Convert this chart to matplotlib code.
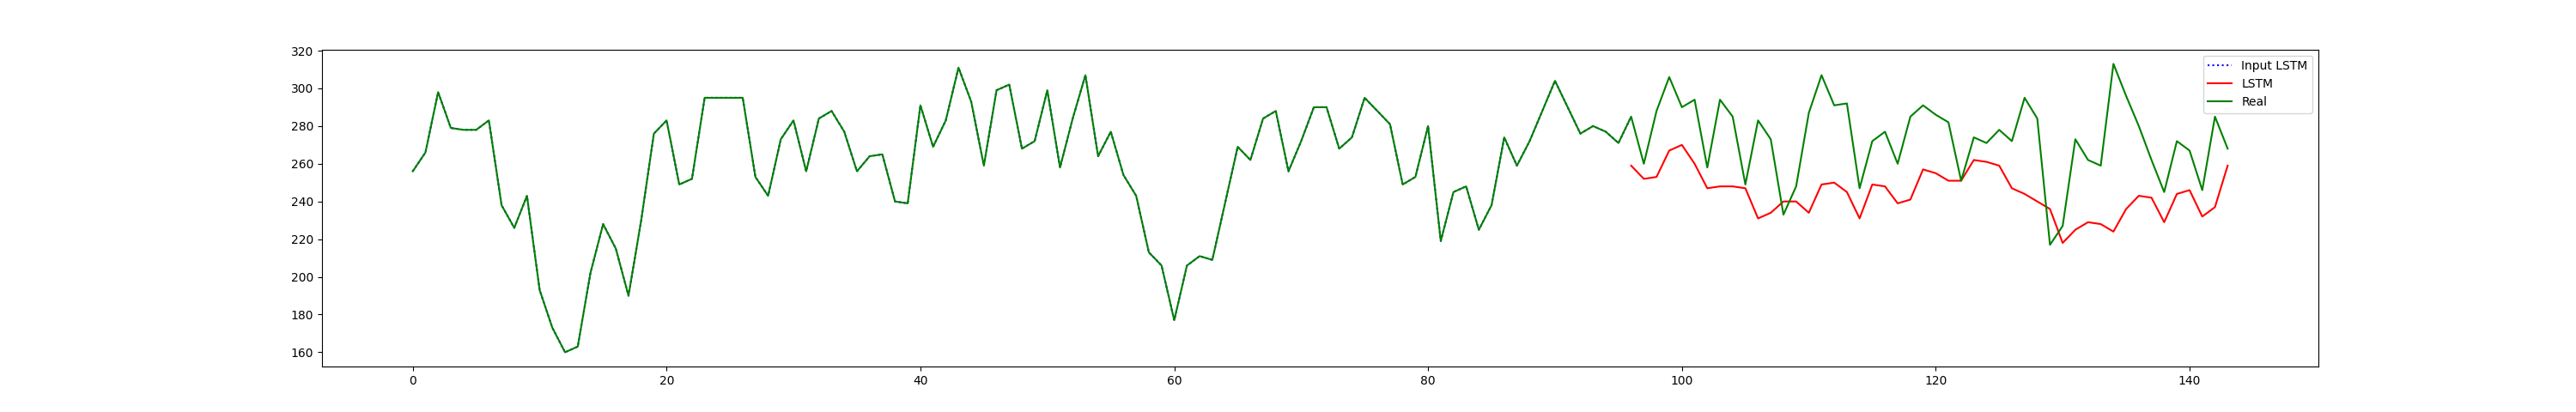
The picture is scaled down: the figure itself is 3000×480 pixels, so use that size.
import numpy as np
import matplotlib.pyplot as plt

# Serie real
real = [256, 266, 298, 279, 278, 278, 283, 238, 226, 243,
        193, 173, 160, 163, 202, 228, 215, 190, 230, 276,
        283, 249, 252, 295, 295, 295, 295, 253, 243, 273,
        283, 256, 284, 288, 277, 256, 264, 265, 240, 239,
        291, 269, 283, 311, 293, 259, 299, 302, 268, 272,
        299, 258, 284, 307, 264, 277, 254, 243, 213, 206,
        177, 206, 211, 209, 239, 269, 262, 284, 288, 256,
        272, 290, 290, 268, 274, 295, 288, 281, 249, 253,
        280, 219, 245, 248, 225, 238, 274, 259, 272, 288,
        304, 290, 276, 280, 277, 271, 285, 260, 288, 306,
        290, 294, 258, 294, 285, 249, 283, 273, 233, 248,
        287, 307, 291, 292, 247, 272, 277, 260, 285, 291,
        286, 282, 251, 274, 271, 278, 272, 295, 284, 217,
        227, 273, 262, 259, 313, 296, 280, 262, 245, 272,
        267, 246, 285, 268]

# Entrada del LSTM (coincide con la serie real hasta t=96)
input_len = 97
input_lstm = real[:input_len]

# Predicción LSTM desde t=96
lstm_start = 96
lstm = [259, 252, 253, 267, 270, 260, 247, 248, 248, 247,
        231, 234, 240, 240, 234, 249, 250, 245, 231, 249,
        248, 239, 241, 257, 255, 251, 251, 262, 261, 259,
        247, 244, 240, 236, 218, 225, 229, 228, 224, 236,
        243, 242, 229, 244, 246, 232, 237, 259]

fig = plt.figure(figsize=(30, 4.8), dpi=100)
plt.plot(np.arange(len(input_lstm)), input_lstm, ':', color="blue", label="Input LSTM")
plt.plot(np.arange(lstm_start, lstm_start + len(lstm)), lstm, '-', color="red", label="LSTM")
plt.plot(np.arange(len(real)), real, '-', color="green", label="Real")
plt.legend(loc="upper right")
plt.savefig("out.png")
